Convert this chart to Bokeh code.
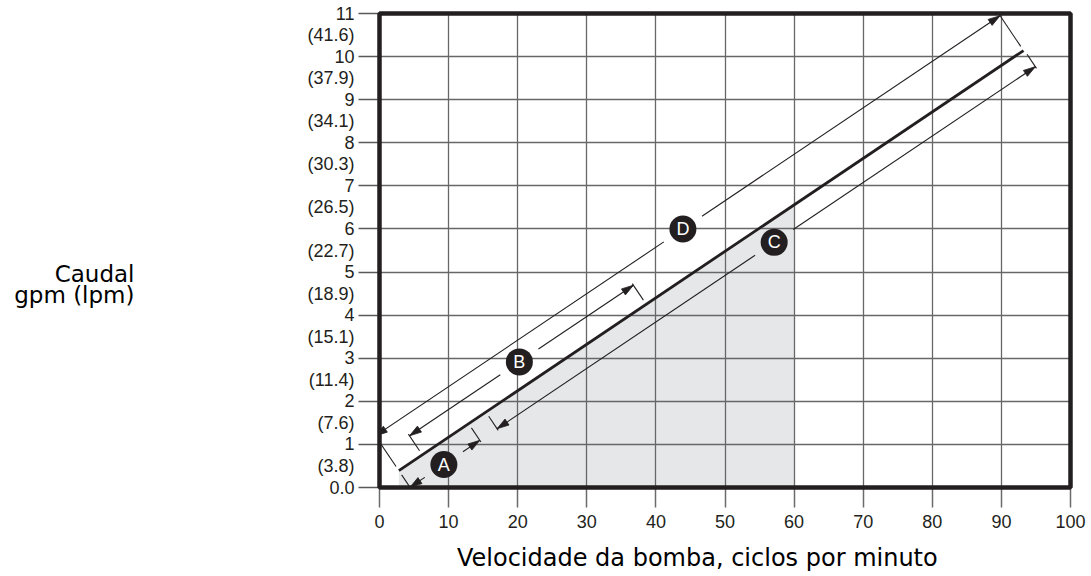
import numpy as np
from bokeh.plotting import figure
from bokeh.models import Range1d, FixedTicker, LinearAxis
from bokeh.core.properties import value
from bokeh.embed import file_html
from bokeh.resources import INLINE

# ---------------- data ----------------
speed_ticks = list(range(0, 101, 10))
gpm_ticks = list(range(0, 12))
gpm_labels = ["0.0", "1", "2", "3", "4", "5", "6", "7", "8", "9", "10", "11"]
lpm_ticks = [0.5, 1.5, 2.5, 3.5, 4.5, 5.5, 6.5, 7.5, 8.5, 9.5, 10.5]
lpm_labels = ["(3.8)", "(7.6)", "(11.4)", "(15.1)", "(18.9)", "(22.7)",
              "(26.5)", "(30.3)", "(34.1)", "(37.9)", "(41.6)"]

line_speed = [2.8, 93.2]      # pump speed, cycles per minute
line_flow = [0.39, 10.14]     # flow, gpm
shade_end_speed = 60

dim_names = ["A", "B", "C", "D"]
dim_from_speed = [2.8, 6.2, 15.4, 2.8]
dim_to_speed = [12.9, 38.6, 93.3, 93.2]
dim_badge_speed = [7.7, 22.1, 55.5, 47.3]

x_title = "Velocidade da bomba, ciclos por minuto"
y_title_1 = "Caudal"
y_title_2 = "gpm (lpm)"

# ---------------- style / layout ----------------
FRAME_W, FRAME_H = 691, 474
X0, X1, Y0, Y1 = 0, 100, 0, 11
kx = FRAME_W / (X1 - X0)
ky = FRAME_H / (Y1 - Y0)
INK = "#231f20"
DIM_OFFSET = [-20, 23, -20, 42]   # px, perpendicular to the main line
GAP = 23                          # px, half gap around badges
HEAD_L, HEAD_W = 12, 3.6
TOP = 13

p = figure(frame_width=FRAME_W, frame_height=FRAME_H,
           x_range=Range1d(X0, X1), y_range=Range1d(Y0, Y1),
           min_border_left=379, min_border_right=18, min_border_top=TOP, min_border_bottom=88,
           output_backend="svg", toolbar_location=None)
p.background_fill_color = "white"
p.border_fill_color = "white"
p.outline_line_color = None

# x axis
xa = p.xaxis[0]
xa.ticker = FixedTicker(ticks=speed_ticks)
xa.major_tick_out = 20
xa.major_tick_in = 0
xa.minor_tick_line_color = None
xa.axis_line_color = None
xa.major_tick_line_color = "#6b6b6b"
xa.major_tick_line_width = 1.5
xa.major_label_standoff = 7
xa.major_label_text_font = "Liberation Sans"
xa.major_label_text_font_size = "18px"
xa.major_label_text_color = INK

# x title, as a one-tick axis below
x_title_pos = 46.0
xt = LinearAxis(ticker=FixedTicker(ticks=[x_title_pos]),
                major_label_overrides={x_title_pos: x_title})
xt.major_tick_line_color = None
xt.minor_tick_line_color = None
xt.axis_line_color = None
xt.major_tick_out = 0
xt.major_tick_in = 0
xt.major_label_standoff = 13
xt.major_label_text_font = "DejaVu Sans"
xt.major_label_text_font_size = "24px"
xt.major_label_text_color = "black"
p.add_layout(xt, "below")

# y axis (tick marks only, next to the frame)
ya = p.yaxis[0]
ya.ticker = FixedTicker(ticks=gpm_ticks)
ya.major_label_overrides = {t: "" for t in gpm_ticks}
ya.major_label_text_font_size = "1px"
ya.major_label_standoff = 0
ya.major_tick_out = 21
ya.major_tick_in = 0
ya.minor_tick_line_color = None
ya.axis_line_color = None
ya.major_tick_line_color = "#5a5a5a"
ya.major_tick_line_width = 1.5

# y axis labels (gpm and lpm)
all_ticks = sorted(gpm_ticks + lpm_ticks)
overrides = {}
for t, s in zip(gpm_ticks, gpm_labels):
    overrides[t] = s
for t, s in zip(lpm_ticks, lpm_labels):
    overrides[t] = s
yb = LinearAxis(ticker=FixedTicker(ticks=all_ticks), major_label_overrides=overrides)
yb.major_tick_out = 0
yb.major_tick_in = 0
yb.major_tick_line_color = None
yb.minor_tick_line_color = None
yb.axis_line_color = None
yb.major_label_standoff = 4
yb.major_label_text_font = "Liberation Sans"
yb.major_label_text_font_size = "18px"
yb.major_label_text_color = INK
p.add_layout(yb, "left")

# y title, as an extra axis with two labelled ticks
y_title_pos1 = round((TOP + FRAME_H - 273) / ky, 3)
y_title_pos2 = round((TOP + FRAME_H - 295) / ky, 3)
yt = LinearAxis(ticker=FixedTicker(ticks=[y_title_pos2, y_title_pos1]),
                major_label_overrides={y_title_pos1: y_title_1, y_title_pos2: y_title_2})
yt.major_tick_out = 0
yt.major_tick_in = 0
yt.major_tick_line_color = None
yt.minor_tick_line_color = None
yt.axis_line_color = None
yt.major_label_standoff = 170
yt.major_label_text_font = "DejaVu Sans"
yt.major_label_text_font_size = "23px"
yt.major_label_text_color = "black"
p.add_layout(yt, "left")

# grid
p.xgrid.ticker = FixedTicker(ticks=speed_ticks)
p.ygrid.ticker = FixedTicker(ticks=gpm_ticks)
for g in (p.xgrid, p.ygrid):
    g.grid_line_color = "#676767"
    g.grid_line_width = 1.3

# shaded region under the line up to 60 cpm
x_sh0 = line_speed[0]
y_at = lambda x: float(np.interp(x, line_speed, line_flow))
p.patch([x_sh0, x_sh0, shade_end_speed, shade_end_speed],
        [Y0, y_at(x_sh0), y_at(shade_end_speed), Y0],
        fill_color="#e6e7e8", line_color=None, level="image")

# main line
p.line(line_speed, line_flow, line_color=INK, line_width=2.8)

# geometry helpers in pixel-like space
S = np.array([line_speed[0] * kx, line_flow[0] * ky])
E = np.array([line_speed[1] * kx, line_flow[1] * ky])
u = (E - S) / np.linalg.norm(E - S)
n = np.array([-u[1], u[0]])


def along(speed):
    return (speed - line_speed[0]) * kx / u[0]


def pt(a, o):
    q = S + a * u + o * n
    return q[0] / kx, q[1] / ky


seg_x0, seg_y0, seg_x1, seg_y1 = [], [], [], []
head_xs, head_ys = [], []
badge_x, badge_y = [], []
for i, name in enumerate(dim_names):
    o = DIM_OFFSET[i]
    sgn = 1 if o > 0 else -1
    a0, a1, ab = along(dim_from_speed[i]), along(dim_to_speed[i]), along(dim_badge_speed[i])
    for s0, s1 in ((a0, ab - GAP), (ab + GAP, a1)):
        if s1 > s0:
            x0, y0 = pt(s0, o)
            x1, y1 = pt(s1, o)
            seg_x0.append(x0); seg_y0.append(y0); seg_x1.append(x1); seg_y1.append(y1)
    # extension lines
    for a in (a0, a1):
        x0, y0 = pt(a, sgn * 5)
        x1, y1 = pt(a, o + sgn * 2)
        seg_x0.append(x0); seg_y0.append(y0); seg_x1.append(x1); seg_y1.append(y1)
    # arrow heads
    for a, d in ((a0, -1), (a1, 1)):
        tip = S + a * u + o * n
        base = tip - d * HEAD_L * u
        c1 = base + HEAD_W * n
        c2 = base - HEAD_W * n
        head_xs.append([tip[0] / kx, c1[0] / kx, c2[0] / kx])
        head_ys.append([tip[1] / ky, c1[1] / ky, c2[1] / ky])
    bx, by = pt(ab, o)
    badge_x.append(bx); badge_y.append(by)

p.segment(seg_x0, seg_y0, seg_x1, seg_y1, line_color=INK, line_width=1.1)
p.patches(head_xs, head_ys, fill_color=INK, line_color=INK, line_width=0.8)
p.scatter(badge_x, badge_y, size=27, fill_color=INK, line_color=None)
p.text(badge_x, badge_y, text=dim_names, text_color="white", text_align="center",
       text_baseline="middle", text_font=value("Liberation Sans"), text_font_size="18px")

# frame border drawn on top of the shading
p.quad(left=[X0], right=[X1], bottom=[Y0], top=[Y1], fill_color=None,
       line_color=INK, line_width=4.5, level="overlay")

open("out.html", "w").write(file_html(p, INLINE))
